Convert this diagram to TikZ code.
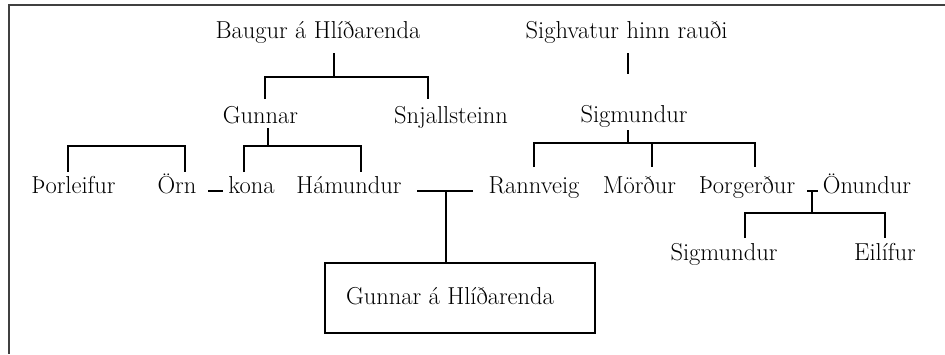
\documentclass[tikz,border=0pt]{standalone}
\begin{document}
\begin{tikzpicture}[x=1pt,y=-1pt,
  nm/.style={anchor=base,inner sep=0pt,font=\fontsize{24.5}{28}\selectfont},
  ln/.style={line width=1.5pt,black},
  frame/.style={line width=2pt,black!75}]
\useasboundingbox (0,0) rectangle (945,354);
\draw[frame] (945,5) -- (9,5) -- (9,354);
% names
\node[nm] (baugur) at (318,38) {Baugur á Hlíðarenda};
\node[nm] (sighvatur) at (626.5,38) {Sighvatur hinn rauði};
\node[nm] (gunnar) at (260.5,123) {Gunnar};
\node[nm] (snjall) at (451,123) {Snjallsteinn};
\node[nm] (sigmA) at (634,122) {Sigmundur};
\node[nm] (thorleifur) at (73.5,193) {Þorleifur};
\node[nm] (orn) at (177,193) {Örn};
\node[nm] (kona) at (251.5,193) {kona};
\node[nm] (hamundur) at (349,193) {Hámundur};
\node[nm] (rannveig) at (534,193) {Rannveig};
\node[nm] (mordur) at (639.5,193) {Mörður};
\node[nm] (thorgerdur) at (747,193) {Þorgerður};
\node[nm] (onundur) at (867,193) {Önundur};
\node[nm] (sigmB) at (724,260) {Sigmundur};
\node[nm] (eilifur) at (885,260) {Eilífur};
\node[ln,draw,minimum width=270pt,minimum height=70pt,inner sep=0pt] (box) at (460,298) {};
\node[nm] (gha) at (450,304) {Gunnar á Hlíðarenda};
% joints
\coordinate (bj) at (334,77);
\coordinate (gj) at (268,146);
\coordinate (tj) at (126,146);
\coordinate (sj) at (628,143);
\coordinate (mj) at (446,191);
\coordinate (oj) at (812,191);
\coordinate (ok) at (812,213);
% Baugur
\draw[ln] (334,53) -- (bj);
\draw[ln] (265,99) |- (bj) -| (428,99);
% Sighvatur
\draw[ln] (628,53) -- (628,74);
% Gunnar
\draw[ln] (268,128) -- (gj);
\draw[ln] (244,172) |- (gj) -| (361,172);
% Thorleifur / Orn
\draw[ln] (68,172) |- (tj) -| (185,172);
% Sigmundur
\draw[ln] (628,130) -- (sj);
\draw[ln] (534,167) |- (sj) -| (755,167);
\draw[ln] (652,143) -- (652,167);
% marriages
\draw[ln] (208,191) -- (223,191);
\draw[ln] (417,191) -- (473,191);
\draw[ln] (mj) -- (box.north -| mj);
\draw[ln] (807,191) -- (818,191);
\draw[ln] (oj) -- (ok);
\draw[ln] (745,238) |- (ok) -| (885,238);
\end{tikzpicture}
\end{document}
